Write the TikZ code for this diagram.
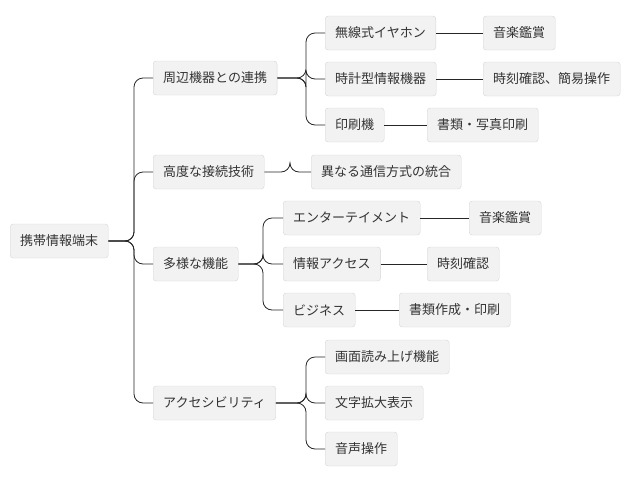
\documentclass[tikz,border=0pt]{standalone}
\usepackage{fontspec}
\setmainfont{Noto Sans CJK JP}
\definecolor{boxfill}{HTML}{F2F2F2}
\definecolor{boxline}{HTML}{D6D6D6}
\definecolor{txt}{HTML}{333333}
\tikzset{
  item/.style={draw=boxline, fill=boxfill, rounded corners=3pt, anchor=west,
    minimum height=34pt, inner xsep=10pt, text=txt, font=\fontsize{13}{16}\selectfont},
  link/.style={draw=black!85, line width=0.8pt, rounded corners=9pt}
}
\newcommand{\branch}[3]{\coordinate (bx) at (#3,0);
  \draw[link] (#1.east) -- (#1.east -| bx) |- (#2.west);}
\begin{document}
\begin{tikzpicture}[x=1pt,y=-1pt]
\useasboundingbox (0,0) rectangle (640,483);
% root and first level
\node[item] (root) at (10,241) {携帯情報端末};
\node[item] (dev) at (153,78) {周辺機器との連携};
\node[item] (conn) at (153,172) {高度な接続技術};
\node[item] (func) at (153,264) {多様な機能};
\node[item] (acc) at (153,403) {アクセシビリティ};
% second level
\node[item] (earph) at (325,33) {無線式イヤホン};
\node[item] (watch) at (325,79) {時計型情報機器};
\node[item] (print) at (325,125) {印刷機};
\node[item] (integ) at (311,172) {異なる通信方式の統合};
\node[item] (ent) at (283,218) {エンターテイメント};
\node[item] (info) at (283,264) {情報アクセス};
\node[item] (biz) at (283,310) {ビジネス};
\node[item] (read) at (325,357) {画面読み上げ機能};
\node[item] (zoom) at (325,403) {文字拡大表示};
\node[item] (voice) at (325,449) {音声操作};
% third level
\node[item] (music) at (483,33) {音楽鑑賞};
\node[item] (clock) at (483,79) {時刻確認、簡易操作};
\node[item] (photo) at (427,125) {書類・写真印刷};
\node[item] (music2) at (469,218) {音楽鑑賞};
\node[item] (clock2) at (427,264) {時刻確認};
\node[item] (doc) at (399,310) {書類作成・印刷};
% connectors
\foreach \c in {dev,conn,func,acc} \branch{root}{\c}{134};
\foreach \c in {earph,watch,print} \branch{dev}{\c}{306};
\branch{conn}{integ}{290}
\foreach \c in {ent,info,biz} \branch{func}{\c}{263};
\foreach \c in {read,zoom,voice} \branch{acc}{\c}{306};
\draw[link] (earph) -- (music);
\draw[link] (watch) -- (clock);
\draw[link] (print) -- (photo);
\draw[link] (ent) -- (music2);
\draw[link] (info) -- (clock2);
\draw[link] (biz) -- (doc);
\end{tikzpicture}
\end{document}
